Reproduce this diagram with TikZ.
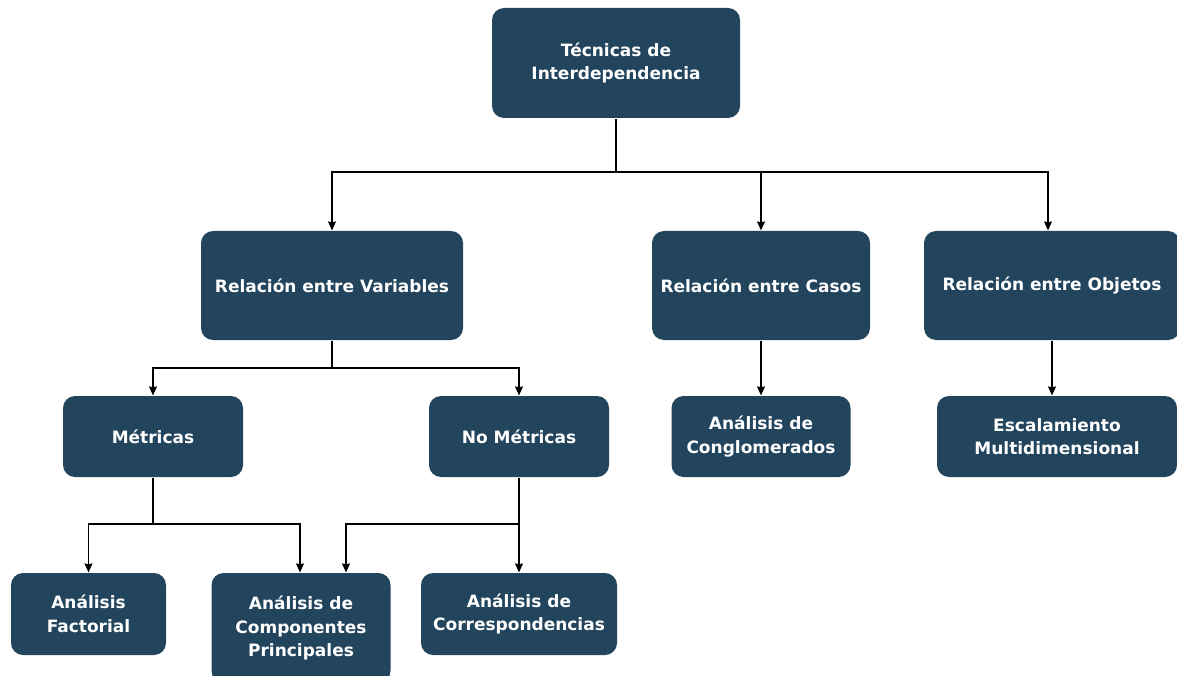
\documentclass[tikz,border=0pt]{standalone}
\usepackage{fontspec}
\setmainfont{DejaVu Sans}
\usetikzlibrary{arrows.meta,positioning}
\definecolor{boxblue}{RGB}{35,68,93}

\begin{document}
\begin{tikzpicture}[x=1pt,y=-1pt,>={Stealth[length=9pt,width=8pt,inset=1pt]},line width=1.2pt,
  blk/.style={fill=boxblue,rounded corners=12pt,text=white,align=center,inner sep=0pt,
    font=\fontsize{17}{23.5}\selectfont\bfseries}]
\useasboundingbox (0,0) rectangle (1177,676);

\node[blk,minimum width=248pt,minimum height=110pt] (tec) at (616,63)    {Técnicas de\\Interdependencia};
\node[blk,minimum width=262pt,minimum height=109pt] (var) at (332,285.5) {Relación entre Variables};
\node[blk,minimum width=218pt,minimum height=109pt] (cas) at (761,285.5) {Relación entre Casos};
\node[blk,minimum width=256pt,minimum height=109pt] (obj) at (1052,285.5) {Relación entre Objetos};
\node[blk,minimum width=180pt,minimum height=81pt]  (met) at (153,436.5)  {Métricas};
\node[blk,minimum width=180pt,minimum height=81pt]  (nom) at (519,436.5)  {No Métricas};
\node[blk,minimum width=179pt,minimum height=81pt]  (con) at (761,436.5)  {Análisis de\\Conglomerados};
\node[blk,minimum width=240pt,minimum height=81pt]  (esc) at (1057,436.5) {Escalamiento\\Multidimensional};
\node[blk,minimum width=155pt,minimum height=82pt]  (fac) at (88.5,614)   {Análisis\\Factorial};
\node[blk,minimum width=179pt,minimum height=110pt] (com) at (301,628)    {Análisis de\\Componentes\\Principales};
\node[blk,minimum width=196pt,minimum height=82pt]  (cor) at (519,614)    {Análisis de\\Correspondencias};

\coordinate (j1) at (616,172);
\coordinate (j2) at (332,368);
\coordinate (j3) at (153,524);
\coordinate (j4) at (519,524);

\draw (tec.south) -- (j1);
\draw[->] (j1) -| (var.north);
\draw[->] (j1) -| (cas.north);
\draw[->] (j1) -| ([xshift=-4pt]obj.north);
\draw (var.south) -- (j2);
\draw[->] (j2) -| (met.north);
\draw[->] (j2) -| (nom.north);
\draw[->] (cas.south) -- (con.north);
\draw[->] (obj.south) -- (obj.south |- esc.north);
\draw (met.south) -- (j3);
\draw[->] (j3) -| (fac.north);
\draw[->] (j3) -| ([xshift=-1pt]com.north);
\draw (nom.south) -- (j4);
\draw[->] (j4) -| ([xshift=45pt]com.north);
\draw[->] (j4) -- (cor.north);
\end{tikzpicture}
\end{document}
